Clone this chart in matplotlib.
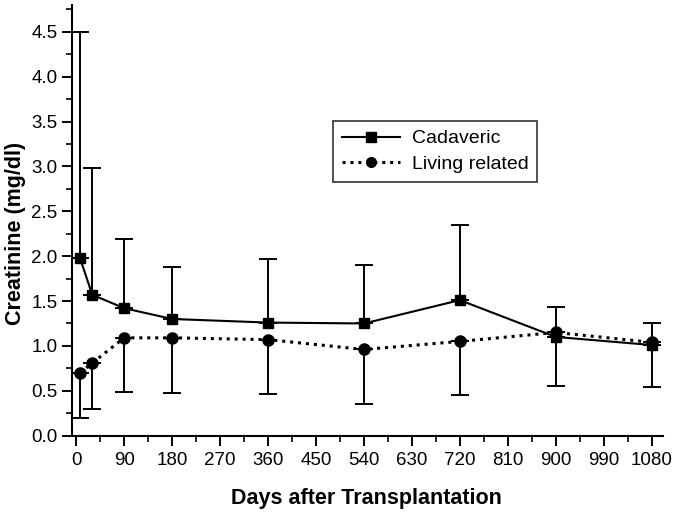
import matplotlib.pyplot as plt
import numpy as np

plt.rcParams['font.family'] = ['Liberation Sans', 'DejaVu Sans']

days = np.array([7, 30, 90, 180, 360, 540, 720, 900, 1080])

# cadaveric donors: mean and upper error bar end
cad_mean = np.array([1.98, 1.57, 1.42, 1.30, 1.26, 1.25, 1.51, 1.10, 1.01])
cad_upper = np.array([4.50, 2.98, 2.19, 1.88, 1.97, 1.90, 2.35, 1.43, 1.26])

# living related donors: mean and lower error bar end
liv_mean = np.array([0.70, 0.81, 1.09, 1.09, 1.07, 0.96, 1.05, 1.15, 1.04])
liv_lower = np.array([0.20, 0.30, 0.49, 0.48, 0.46, 0.35, 0.45, 0.55, 0.54])

xticks = np.arange(0, 1081, 90)
yticks = np.arange(0, 4.51, 0.5)

fig = plt.figure(figsize=(6.76, 5.18), dpi=100)
ax = fig.add_axes([0.1065, 0.159, 0.874, 0.8315])

zeros = np.zeros(len(days))
dot = (0, (1, 1.6))

ax.errorbar(days, cad_mean, yerr=[zeros, cad_upper - cad_mean],
            fmt='none', ecolor='black', elinewidth=1.4, capsize=6.5, capthick=1.4)
ax.errorbar(days, liv_mean, yerr=[liv_mean - liv_lower, zeros],
            fmt='none', ecolor='black', elinewidth=1.4, capsize=6.5, capthick=1.4)
ax.plot(days, cad_mean, color='black', lw=1.5, marker='s', ms=7,
        label='Cadaveric', zorder=3)
ax.plot(days, liv_mean, color='black', lw=2.2, ls=dot, marker='o', ms=8,
        label='Living related', zorder=4)

ax.set_xlim(-8, 1101)
ax.set_ylim(0, 4.8)
ax.set_xticks(xticks)
ax.set_xticklabels([str(t) for t in xticks])
ax.set_xticks(np.arange(45, 1080, 90), minor=True)
ax.set_yticks(yticks)
ax.set_yticklabels(['%.1f' % t for t in yticks])
ax.set_yticks(np.arange(0.25, 4.8, 0.5), minor=True)

ax.spines['top'].set_visible(False)
ax.spines['right'].set_visible(False)
ax.spines['left'].set_linewidth(1.5)
ax.spines['bottom'].set_linewidth(1.5)
ax.tick_params(which='major', direction='out', length=7, width=1.4, labelsize=13.5)
ax.tick_params(axis='x', which='major', pad=5)
ax.tick_params(which='minor', direction='out', length=4, width=1.2)

ax.set_xlabel('Days after Transplantation', fontsize=15.5, fontweight='bold', va='center')
ax.xaxis.set_label_coords(0.498, -0.145)
ax.set_ylabel('Creatinine (mg/dl)', fontsize=15.5, fontweight='bold', va='center')
ax.yaxis.set_label_coords(-0.096, 0.469)

leg = ax.legend(loc='upper left', bbox_to_anchor=(333 / 676, 1 - 121 / 518),
                bbox_transform=fig.transFigure, borderaxespad=0, fontsize=14,
                frameon=True, fancybox=False, edgecolor='black',
                handlelength=3.0, handletextpad=0.6, borderpad=0.45,
                labelspacing=0.4)
leg.get_frame().set_linewidth(1.2)
for h in leg.legend_handles:
    h.set_markersize(7)

fig.savefig('out.png', dpi=100)
